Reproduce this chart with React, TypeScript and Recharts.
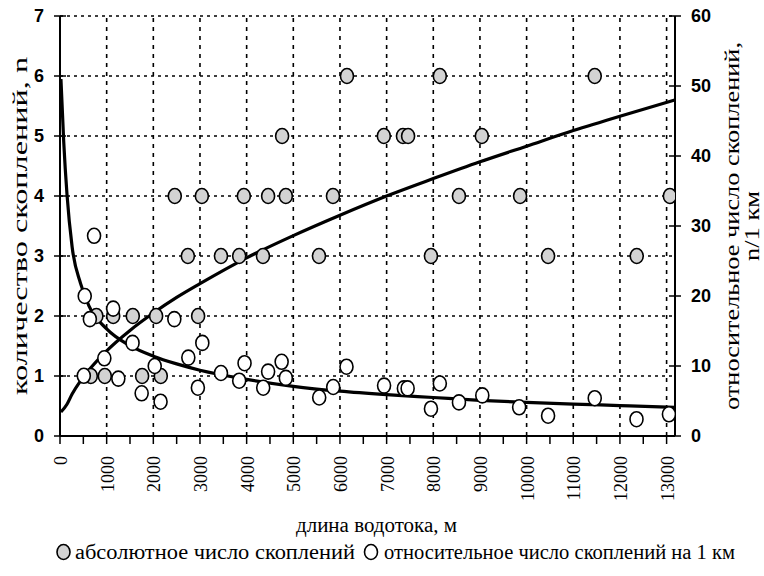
import React from 'react';
import { ComposedChart, Scatter, Line, XAxis, YAxis, ReferenceLine } from 'recharts';

// Stream length ticks (m): minor every 500, labelled every 1000
const lengthTicks = [0, 500, 1000, 1500, 2000, 2500, 3000, 3500, 4000, 4500, 5000, 5500, 6000, 6500,
  7000, 7500, 8000, 8500, 9000, 9500, 10000, 10500, 11000, 11500, 12000, 12500, 13000];
const lengthGrid = [1000, 2000, 3000, 4000, 5000, 6000, 7000, 8000, 9000, 10000, 11000, 12000, 13000];
const countTicks = [0, 1, 2, 3, 4, 5, 6, 7];
const countGrid = [1, 2, 3, 4, 5, 6, 7];
const densityTicks = [0, 10, 20, 30, 40, 50, 60];

// Absolute number of clusters (left axis)
const absLength = [660, 960, 1760, 2160,
  780, 1140, 1560, 2060, 2960,
  2740, 3450, 3840, 4350, 5550, 7950, 10460, 12360,
  2460, 3040, 3940, 4460, 4840, 5850, 8550, 9860, 13070,
  4760, 6940, 7350, 7460, 9040,
  6150, 8140, 11460];
const absCount = [1, 1, 1, 1,
  2, 2, 2, 2, 2,
  3, 3, 3, 3, 3, 3, 3, 3,
  4, 4, 4, 4, 4, 4, 4, 4, 4,
  5, 5, 5, 5, 5,
  6, 6, 6];

// Clusters per 1 km (right axis)
const relLength = [730, 530, 640, 1140, 950, 1555, 510, 1250, 2030, 1750, 2155, 2450, 2750, 3050,
  2955, 3450, 3840, 3955, 4355, 4460, 4750, 4840, 5555, 5855, 6140, 6945, 7370, 7450, 7950,
  8140, 8550, 9050, 9840, 10460, 11460, 12355, 13050];
const relDensity = [28.6, 20, 16.7, 18.2, 11.1, 13.3, 8.6, 8.2, 10.0, 6.1, 4.9, 16.7, 11.2, 13.3,
  6.9, 9.0, 7.9, 10.4, 6.9, 9.2, 10.6, 8.3, 5.5, 7.0, 9.9, 7.2, 6.8, 6.8, 3.9,
  7.5, 4.8, 5.8, 4.1, 2.9, 5.4, 2.4, 3.1];

// Trend of the absolute number
const countTrendLength = [20, 150, 260, 440, 620, 1000, 1500, 2000, 2500, 3000, 4000, 5000, 6000,
  7000, 8000, 9000, 10000, 11000, 12000, 13180];
const countTrendValue = [0.4, 0.53, 0.7, 0.92, 1.1, 1.42, 1.76, 2.05, 2.31, 2.54, 2.97, 3.34, 3.68,
  4.0, 4.29, 4.57, 4.83, 5.09, 5.33, 5.6];

// Trend of clusters per 1 km
const densityTrendLength = [20, 80, 150, 260, 440, 620, 1000, 1500, 2000, 2500, 3000, 4000, 5000,
  6000, 7000, 8000, 9000, 10000, 11000, 12000, 13180];
const densityTrendValue = [51, 42, 34.5, 27, 21.8, 18.6, 15.3, 12.9, 11.4, 10.3, 9.4, 8.1, 7.1,
  6.4, 5.9, 5.5, 5.1, 4.8, 4.55, 4.35, 4.1];

const legendLabels = ['абсолютное число скоплений', 'относительное число скоплений на 1 км'];

const zip = (xs: number[], ys: number[]) => xs.map((x, i) => ({ x, y: ys[i] }));
const absData = zip(absLength, absCount);
const relData = zip(relLength, relDensity);
const countTrend = zip(countTrendLength, countTrendValue);
const densityTrend = zip(densityTrendLength, densityTrendValue);

const SERIF = 'Liberation Serif, DejaVu Serif, serif';
const NARROW = 'Liberation Sans Narrow, Liberation Sans, Arial, sans-serif';
const GRAY = '#d3d3d3';
const TICK_SIZE = 6;
const TICK_MARGIN = 10;

const Marker = (fill: string) => (p: any) => (
  <ellipse cx={p.cx} cy={p.cy} rx={6.5} ry={7.5} fill={fill} stroke="#000" strokeWidth={1.6} />
);

const LengthTick = (p: any) => {
  const { x, y, payload } = p;
  if (payload.value % 1000 !== 0) return <g />;
  return (
    <text x={x + 1} y={y} transform={`rotate(-90, ${x + 1}, ${y})`} textAnchor="end"
      dominantBaseline="central" style={{ fontFamily: SERIF }} fontSize={18} fill="#000">
      {payload.value}
    </text>
  );
};

const LeftTick = (p: any) => {
  const { x, y, payload } = p;
  const ax = x + TICK_SIZE + TICK_MARGIN;
  return (
    <g>
      <line x1={ax} x2={ax + TICK_SIZE} y1={y} y2={y} stroke="#000" strokeWidth={1.5} />
      <text x={x} y={y} textAnchor="end" dominantBaseline="central" style={{ fontFamily: NARROW }}
        fontWeight="bold" fontSize={18} fill="#000">{payload.value}</text>
    </g>
  );
};

const RightTick = (p: any) => {
  const { x, y, payload } = p;
  const ax = x - TICK_SIZE - TICK_MARGIN;
  return (
    <g>
      <line x1={ax - TICK_SIZE} x2={ax} y1={y} y2={y} stroke="#000" strokeWidth={1.5} />
      <text x={x} y={y} textAnchor="start" dominantBaseline="central" style={{ fontFamily: NARROW }}
        fontWeight="bold" fontSize={18} fill="#000">{payload.value}</text>
    </g>
  );
};

// Vertical title drawn bottom-to-top, stretched to a fixed length
const VerticalText = ({ x, y, len, size, children }: any) => (
  <text x={x} y={y} transform={`rotate(-90, ${x}, ${y})`} textAnchor="middle"
    style={{ fontFamily: SERIF }} fontSize={size} fill="#000" textLength={len}
    lengthAdjust="spacingAndGlyphs">
    {children}
  </text>
);

const LeftTitle = (p: any) => {
  const vb = p.viewBox;
  return (
    <VerticalText x={vb.x + 27} y={vb.y + vb.height / 2} len={338} size={21}>
      количество скоплений, n
    </VerticalText>
  );
};

const RightTitle = (p: any) => {
  const vb = p.viewBox;
  const cy = vb.y + vb.height / 2;
  return (
    <g>
      <VerticalText x={vb.x + 64} y={cy} len={368} size={21}>
        относительное число скоплений,
      </VerticalText>
      <VerticalText x={vb.x + 84} y={cy} len={70} size={21}>
        n/1 км
      </VerticalText>
    </g>
  );
};

const BottomTitle = (p: any) => {
  const vb = p.viewBox;
  return (
    <text x={vb.x + vb.width / 2 + 9} y={vb.y + 96} textAnchor="middle" style={{ fontFamily: SERIF }}
      fontSize={20} fill="#000" textLength={161} lengthAdjust="spacingAndGlyphs">
      длина водотока, м
    </text>
  );
};

const ChartLegend = () => (
  <svg width={764} height={40} style={{ position: 'absolute', left: 0, top: 536 }}>
    <ellipse cx={63.5} cy={16} rx={6.5} ry={7.5} fill={GRAY} stroke="#000" strokeWidth={1.6} />
    <text x={75} y={23} style={{ fontFamily: SERIF }} fontSize={20} fill="#000" textLength={280}
      lengthAdjust="spacingAndGlyphs">{legendLabels[0]}</text>
    <ellipse cx={371} cy={16} rx={6.5} ry={7.5} fill="#fff" stroke="#000" strokeWidth={1.6} />
    <text x={384} y={23} style={{ fontFamily: SERIF }} fontSize={20} fill="#000" textLength={351}
      lengthAdjust="spacingAndGlyphs">{legendLabels[1]}</text>
  </svg>
);

export default function App() {
  return (
    <div style={{ position: 'fixed', left: 0, top: 0, width: 764, height: 576, background: '#fff' }}>
      <ComposedChart width={764} height={576} margin={{ top: 16, right: 0, bottom: 0, left: 0 }}>
        <XAxis type="number" dataKey="x" domain={[0, 13180]} ticks={lengthTicks} interval={0}
          allowDataOverflow height={140} tick={<LengthTick />} tickSize={8} tickMargin={12}
          axisLine={{ stroke: '#000', strokeWidth: 2 }} tickLine={{ stroke: '#000', strokeWidth: 1.5 }}
          label={{ content: <BottomTitle /> }} />
        <YAxis yAxisId="left" orientation="left" dataKey="y" type="number" domain={[0, 7]}
          ticks={countTicks} interval={0} allowDataOverflow width={60} tick={<LeftTick />}
          tickSize={TICK_SIZE} tickMargin={TICK_MARGIN}
          axisLine={{ stroke: '#000', strokeWidth: 2 }} tickLine={{ stroke: '#000', strokeWidth: 1.5 }}
          label={{ content: <LeftTitle /> }} />
        <YAxis yAxisId="right" orientation="right" dataKey="y" type="number" domain={[0, 60]}
          ticks={densityTicks} interval={0} allowDataOverflow width={89} tick={<RightTick />}
          tickSize={TICK_SIZE} tickMargin={TICK_MARGIN}
          axisLine={{ stroke: '#000', strokeWidth: 2 }} tickLine={{ stroke: '#000', strokeWidth: 1.5 }}
          label={{ content: <RightTitle /> }} />

        {countGrid.map((v) => (
          <ReferenceLine key={`h${v}`} yAxisId="left" y={v} stroke="#000" strokeWidth={1.6}
            strokeDasharray="3 4" />
        ))}
        {lengthGrid.map((v) => (
          <ReferenceLine key={`v${v}`} yAxisId="left" x={v} stroke="#000" strokeWidth={1.6}
            strokeDasharray="4 5" />
        ))}

        <Scatter name={legendLabels[0]} data={absData} dataKey="y" yAxisId="left"
          shape={Marker(GRAY)} isAnimationActive={false} />
        <Scatter name={legendLabels[1]} data={relData} dataKey="y"
          yAxisId="right" shape={Marker('#fff')} isAnimationActive={false} />

        <Line data={countTrend} dataKey="y" yAxisId="left" type="monotone" stroke="#000"
          strokeWidth={3.2} dot={false} activeDot={false} isAnimationActive={false} />
        <Line data={densityTrend} dataKey="y" yAxisId="right" type="monotone" stroke="#000"
          strokeWidth={3.2} dot={false} activeDot={false} isAnimationActive={false} />
      </ComposedChart>
      <ChartLegend />
    </div>
  );
}
